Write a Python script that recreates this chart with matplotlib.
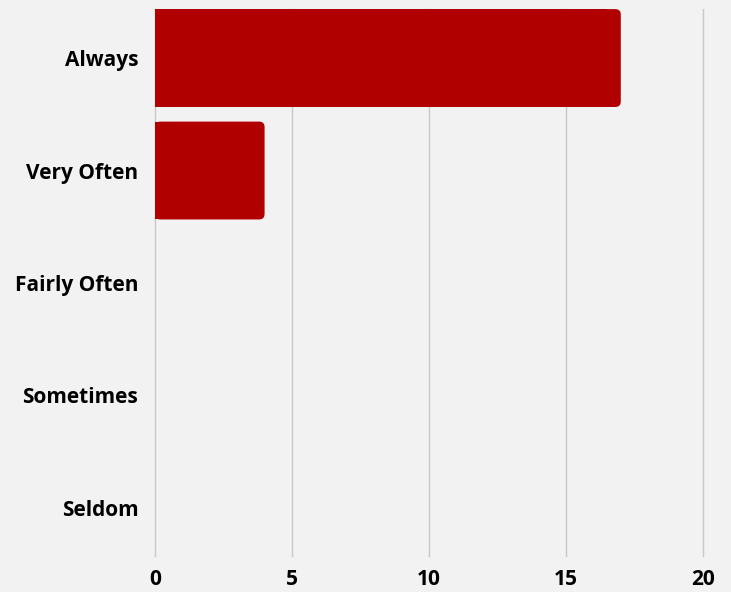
import matplotlib
matplotlib.use("Agg")
import matplotlib.pyplot as plt
from matplotlib.patches import FancyBboxPatch, Rectangle

categories = ["Always", "Very Often", "Fairly Often", "Sometimes", "Seldom"]
counts = [17, 4, 0, 0, 0]
xticks = [0, 5, 10, 15, 20]

bg = "#f2f2f2"
bar_color = "#b00000"
bar_h = 0.87

plt.rcParams["font.family"] = ["Open Sans", "DejaVu Sans"]

fig = plt.figure(figsize=(7.31, 5.92), dpi=100, facecolor=bg)
ax = fig.add_axes([0.212, 0.0608, 0.7497, 0.924])
ax.set_facecolor(bg)

ax.set_xlim(0, 20)
ax.set_ylim(4.427, -0.436)

# bars with only the right end rounded
for i, v in enumerate(counts):
    if v <= 0:
        continue
    y0 = i - bar_h / 2
    ax.add_patch(FancyBboxPatch((0, y0), v, bar_h,
                                boxstyle="round,pad=0,rounding_size=0.2",
                                mutation_aspect=0.245,
                                fc=bar_color, ec="none", zorder=3))
    ax.add_patch(Rectangle((0, y0), v - 0.5, bar_h,
                           fc=bar_color, ec="none", zorder=3))

ax.set_xticks(xticks)
ax.set_xticklabels([str(t) for t in xticks], fontsize=15, fontweight="bold")
ax.set_yticks(range(len(categories)))
ax.set_yticklabels(categories, fontsize=15, fontweight="bold")
ax.tick_params(axis="both", length=0)
ax.tick_params(axis="x", pad=9)
ax.tick_params(axis="y", pad=12)

ax.grid(axis="x", color="#c8c8c8", linewidth=1)
for gl in ax.get_xgridlines():
    gl.set_clip_on(False)
ax.set_axisbelow(True)
for s in ax.spines.values():
    s.set_visible(False)

fig.savefig("out.png", dpi=100, facecolor=bg)
